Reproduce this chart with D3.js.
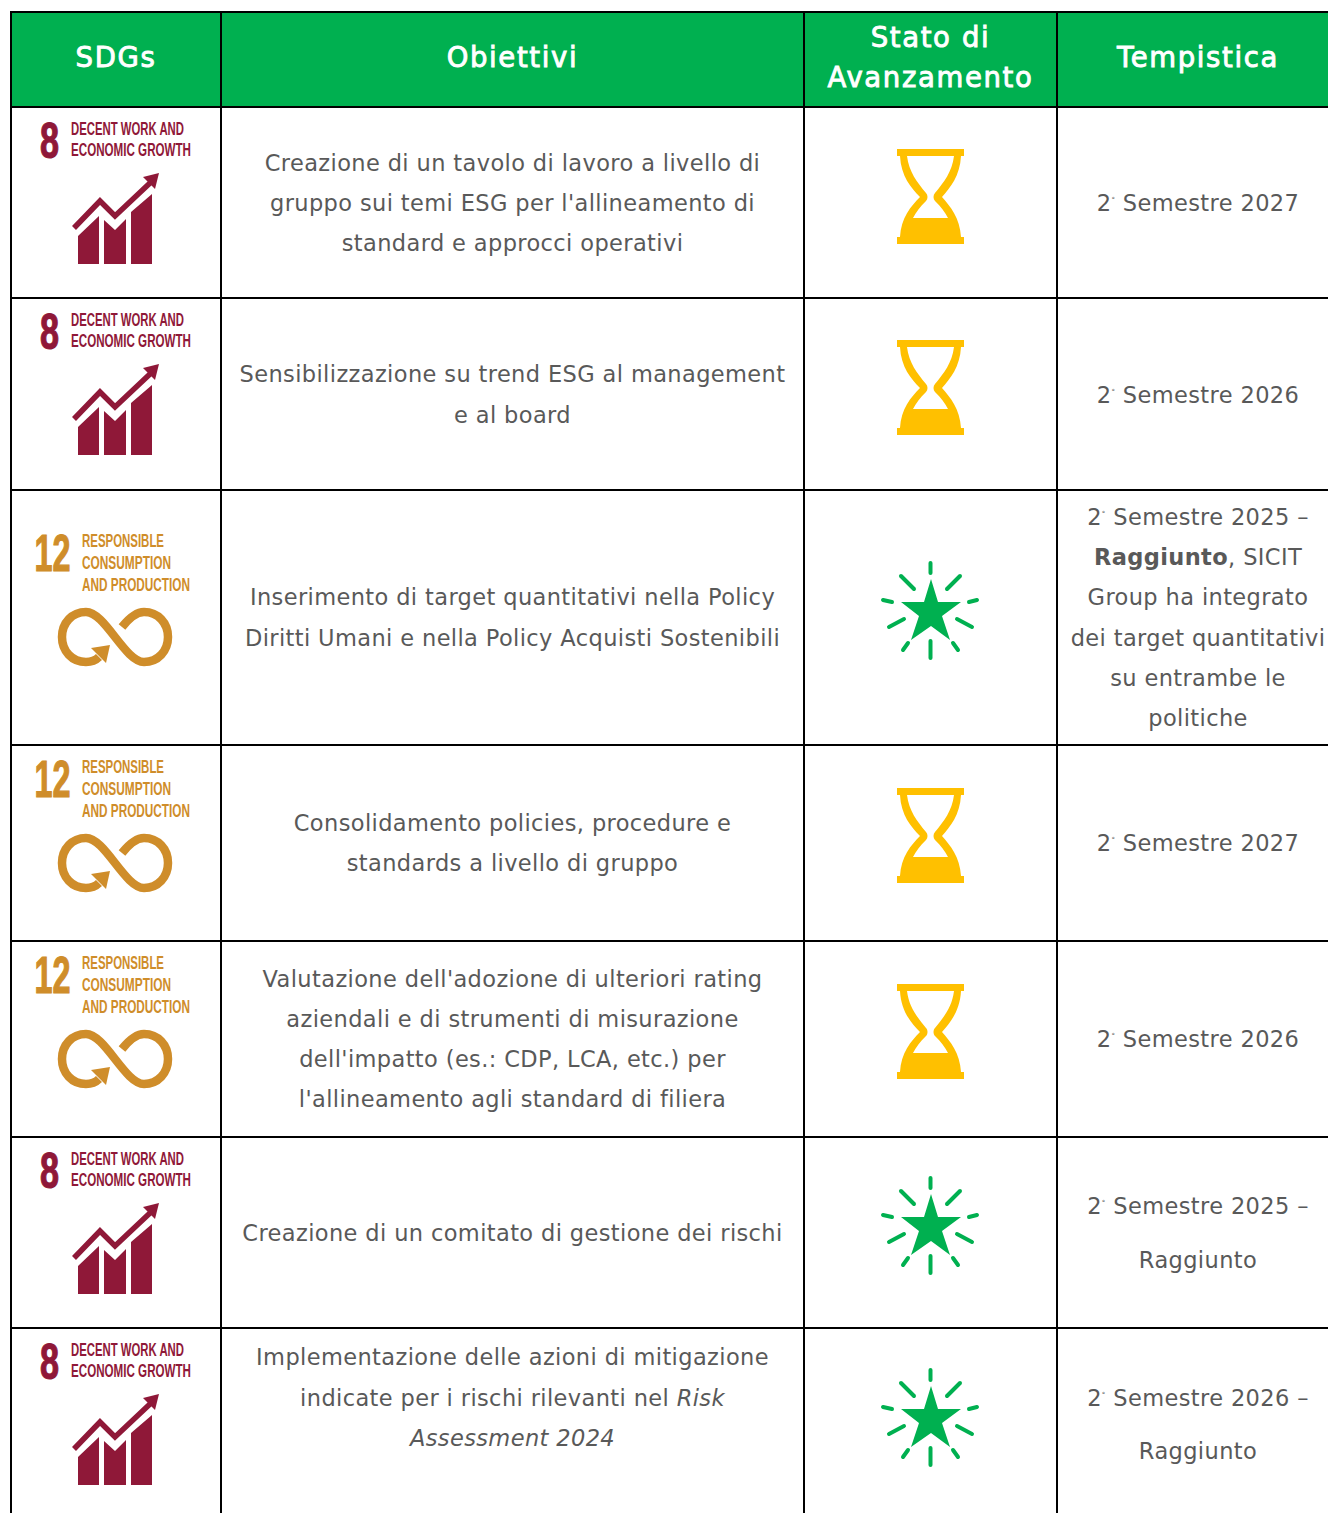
<!DOCTYPE html>
<html>
<head>
<meta charset="utf-8">
<style>
html, body { margin: 0; padding: 0; background: #fff; overflow: hidden; }
.cell { font-family: "DejaVu Sans", sans-serif; font-size: 22.5px; fill: #595959; text-anchor: middle; letter-spacing: 0.38px; }
.head { font-family: "DejaVu Sans", sans-serif; font-size: 27.5px; fill: #fff; stroke: #fff; stroke-width: 0.9px; text-anchor: middle; letter-spacing: 1.65px; }
.sdg { font-family: "Liberation Sans Narrow", "Liberation Sans", sans-serif; font-weight: bold; }
</style>
</head>
<body>
<svg width="1328" height="1513"></svg>
<script src="https://d3js.org/d3.v7.min.js"></script>
<script>

var headers = [["SDGs"], ["Obiettivi"], ["Stato di", "Avanzamento"], ["Tempistica"]];

var sdgs = [8, 8, 12, 12, 12, 8, 8];

var goals = [
  ["Creazione di un tavolo di lavoro a livello di", "gruppo sui temi ESG per l'allineamento di", "standard e approcci operativi"],
  ["Sensibilizzazione su trend ESG al management", "e al board"],
  ["Inserimento di target quantitativi nella Policy", "Diritti Umani e nella Policy Acquisti Sostenibili"],
  ["Consolidamento policies, procedure e", "standards a livello di gruppo"],
  ["Valutazione dell'adozione di ulteriori rating", "aziendali e di strumenti di misurazione", "dell'impatto (es.: CDP, LCA, etc.) per", "l'allineamento agli standard di filiera"],
  ["Creazione di un comitato di gestione dei rischi"],
  ["Implementazione delle azioni di mitigazione", "indicate per i rischi rilevanti nel <i>Risk</i>", "<i>Assessment 2024</i>"]
];

var progress = ["wait", "wait", "done", "wait", "wait", "done", "done"];

var timing = [
  ["2<s>°</s> Semestre 2027"],
  ["2<s>°</s> Semestre 2026"],
  ["2<s>°</s> Semestre 2025 –", "<b>Raggiunto</b>, SICIT", "Group ha integrato", "dei target quantitativi", "su entrambe le", "politiche"],
  ["2<s>°</s> Semestre 2027"],
  ["2<s>°</s> Semestre 2026"],
  ["2<s>°</s> Semestre 2025 –", "Raggiunto"],
  ["2<s>°</s> Semestre 2026 –", "Raggiunto"]
];

// table grid, the last column runs past the window edge
var colEdges = [11, 221, 804, 1057, 1339],
    rowEdges = [12, 107, 298, 490, 745, 941, 1137, 1328, 1513];

// vertical placement inside each row
var goalY = [56, 76, 107, 78, 38, 96, 29],
    goalStep = [40, 41, 41, 40, 40, 40, 40.5],
    timeY = [96, 97, 27, 98, 98, 69, 70],
    timeStep = [40, 40, 40.2, 40, 40, 54, 53],
    sdgInset = [0, 0, 29, 0, 0, 0, 0],
    iconInset = [42, 42, 73, 43, 43, 41, 42];

var green = "#00b050", yellow = "#ffc000", maroon = "#8f1838", ochre = "#cf8d2a";

var svg = d3.select("svg");
var rows = sdgs.map(function(d, i) {
  return {sdg: d, goal: goals[i], progress: progress[i], timing: timing[i], top: rowEdges[i + 1]};
});

var colCentre = function(i) { return (colEdges[i] + colEdges[i + 1]) / 2; };

// split a line on <b>, <i>, <s> into tspans
function richText(sel, line) {
  var raised = false;
  line.split(/(<[bis]>.*?<\/[bis]>)/).filter(Boolean).forEach(function(part) {
    var m = part.match(/^<([bis])>(.*)<\/[bis]>$/),
        t = sel.append("tspan").text(m ? m[2] : part);
    if (raised) { t.attr("dy", 9); raised = false; }
    if (!m) return;
    if (m[1] == "b") t.style("font-weight", "bold");
    if (m[1] == "i") t.style("font-style", "italic");
    if (m[1] == "s") { t.attr("dy", -9).style("font-size", "7px"); raised = true; }
  });
}

function block(g, lines, x, y, step) {
  lines.forEach(function(line, i) {
    richText(g.append("text").attr("class", "cell").attr("x", x).attr("y", y + i * step + 8), line);
  });
}

function drawEight(g) {
  g.append("text").attr("class", "sdg").attr("x", 40).attr("y", 157.5).attr("font-size", 50)
    .attr("textLength", 19).attr("lengthAdjust", "spacingAndGlyphs")
    .attr("fill", maroon).attr("stroke", maroon).attr("stroke-width", 1.2).text("8");
  [["DECENT WORK AND", 135, 113], ["ECONOMIC GROWTH", 156, 120]].forEach(function(t) {
    g.append("text").attr("class", "sdg").attr("x", 71).attr("y", t[1]).attr("font-size", 19)
      .attr("textLength", t[2]).attr("lengthAdjust", "spacingAndGlyphs").attr("fill", maroon).text(t[0]);
  });
  g.append("path").attr("fill", maroon)
    .attr("d", "M78 264V236L99 216V264ZM104 220L115 230L126 219V264H104ZM131 212L152 194V264H131Z");
  g.append("path").attr("fill", "none").attr("stroke", maroon).attr("stroke-width", 5.5)
    .attr("d", "M74 228L100 201L115 216L150 183");
  g.append("path").attr("fill", maroon).attr("d", "M143 177L159 173L155 189Z");
}

function drawTwelve(g) {
  g.append("text").attr("class", "sdg").attr("x", 34.5).attr("y", 570.5).attr("font-size", 52)
    .attr("textLength", 36).attr("lengthAdjust", "spacingAndGlyphs")
    .attr("fill", ochre).attr("stroke", ochre).attr("stroke-width", 1.2).text("12");
  [["RESPONSIBLE", 547, 82], ["CONSUMPTION", 569, 89], ["AND PRODUCTION", 591, 108]].forEach(function(t) {
    g.append("text").attr("class", "sdg").attr("x", 82).attr("y", t[1]).attr("font-size", 19)
      .attr("textLength", t[2]).attr("lengthAdjust", "spacingAndGlyphs").attr("fill", ochre).text(t[0]);
  });
  g.append("path").attr("fill", "none").attr("stroke", ochre).attr("stroke-width", 8.5)
    .attr("d", "M122 627C130 617 137 612 144 612C158 612 168 623 168 637C168 651 158 662 144 662C125 662 105 612 86 612C72 612 62 623 62 637C62 651 72 662 86 662C92 662 96 660 99 657");
  g.append("path").attr("fill", ochre).attr("d", "M91 648L110 645L106 663Z");
}

function drawHourglass(g) {
  g.append("path").attr("fill", yellow)
    .attr("d", "M897 149H964V156H961C960 176 950 188 942 197C950 206 960 218 961 237H964V244H897V237H900C901 218 911 206 920 197C911 188 901 176 900 156H897Z");
  g.append("path").attr("fill", "#fff")
    .attr("d", "M907 156H954C952 172 944 182 935 193C933 195 933 199 935 201C941 207 945 212 948 218H913C916 212 920 207 926 201C928 199 928 195 926 193C917 182 909 172 907 156Z");
}

function drawStar(g) {
  g.append("path").attr("fill", green)
    .attr("d", "M931 579L938 602H961L942 616L950 640L931 626L911 640L919 616L901 602H924Z");
  var rays = [[930.5, 563, 930.5, 573], [901, 576, 914, 589], [960, 576, 947, 589], [883, 600, 892, 602], [977, 600, 969, 602],
              [889, 627, 904, 619], [972, 627, 957, 619], [930.5, 641, 930.5, 658], [903, 650, 908, 643], [958, 650, 953, 643]];
  g.selectAll("line").data(rays).enter().append("line")
    .attr("x1", function(d) { return d[0]; }).attr("y1", function(d) { return d[1]; })
    .attr("x2", function(d) { return d[2]; }).attr("y2", function(d) { return d[3]; })
    .attr("stroke", green).attr("stroke-width", 4).attr("stroke-linecap", "round");
}

// header band
svg.append("rect").attr("x", colEdges[0]).attr("y", rowEdges[0])
  .attr("width", colEdges[4] - colEdges[0]).attr("height", rowEdges[1] - rowEdges[0]).attr("fill", green);

headers.forEach(function(lines, i) {
  lines.forEach(function(line, j) {
    svg.append("text").attr("class", "head").attr("x", colCentre(i))
      .attr("y", (lines.length == 1 ? 67 : 47) + j * 40).text(line);
  });
});

// body rows
var row = svg.selectAll(".row").data(rows).enter().append("g").attr("class", "row");

row.each(function(d, i) {
  var g = d3.select(this);

  var sdgIcon = g.append("g").attr("transform", "translate(0," + (d.top + sdgInset[i] - (d.sdg == 8 ? 107 : 519)) + ")");
  if (d.sdg == 8) drawEight(sdgIcon); else drawTwelve(sdgIcon);

  block(g, d.goal, colCentre(1), d.top + goalY[i], goalStep[i]);
  block(g, d.timing, colCentre(3), d.top + timeY[i], timeStep[i]);

  var statusIcon = g.append("g").attr("transform", "translate(0," + (d.top + iconInset[i] - (d.progress == "wait" ? 149 : 563)) + ")");
  if (d.progress == "wait") drawHourglass(statusIcon); else drawStar(statusIcon);
});

// grid lines
svg.selectAll(".h").data(rowEdges.slice(0, -1)).enter().append("line").attr("class", "h")
  .attr("x1", colEdges[0] - 1).attr("x2", colEdges[4]).attr("y1", function(d) { return d; }).attr("y2", function(d) { return d; })
  .attr("stroke", "#000").attr("stroke-width", 2);
svg.selectAll(".v").data(colEdges.slice(0, -1)).enter().append("line").attr("class", "v")
  .attr("y1", rowEdges[0] - 1).attr("y2", rowEdges[8]).attr("x1", function(d) { return d; }).attr("x2", function(d) { return d; })
  .attr("stroke", "#000").attr("stroke-width", 2);

</script>
</body>
</html>
